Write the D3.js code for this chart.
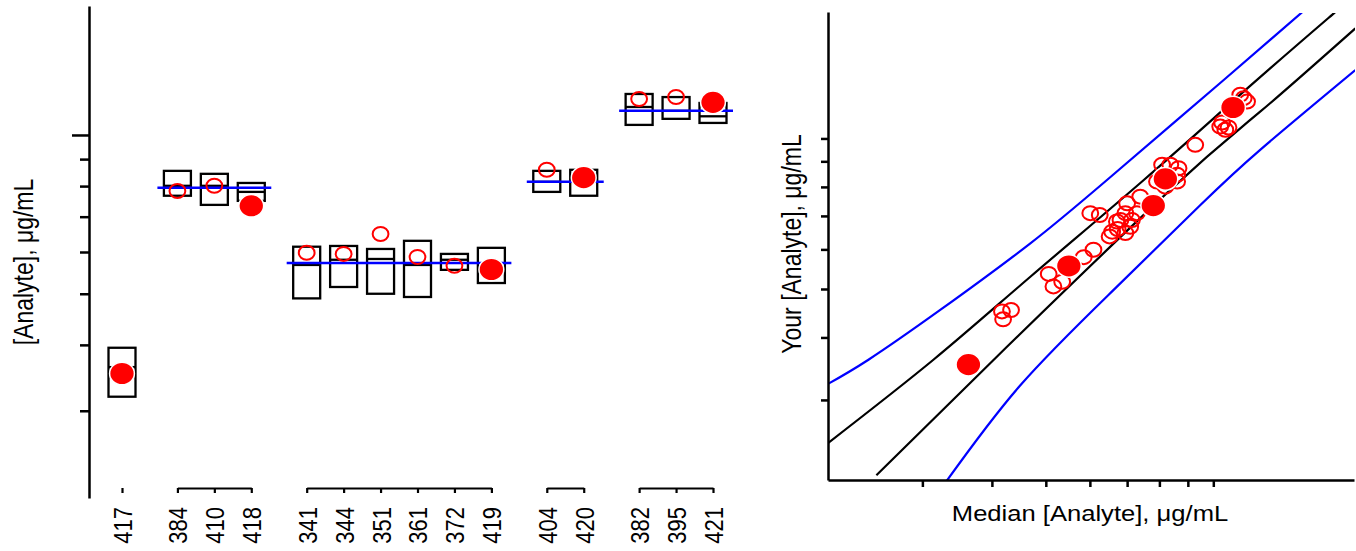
<!DOCTYPE html>
<html>
<head>
<meta charset="utf-8">
<script src="https://cdn.jsdelivr.net/npm/d3@7"></script>
<style>
  body { margin: 0; background: #fff; }
  svg { display: block; }
  text { font-family: "Liberation Sans", Arial, Helvetica, sans-serif; fill: #000; }
</style>
</head>
<body>
<svg id="chart" width="1356" height="551"></svg>
<script>
// ---- Left panel: samples grouped by material ----
const groups = [
  ["417"],
  ["384", "410", "418"],
  ["341", "344", "351", "361", "372", "419"],
  ["404", "420"],
  ["382", "395", "421"]
];
const groupMedian = [null, 79.4, 57.2, 81.5, 111.1];

const sampleIds = ["417", "384", "410", "418", "341", "344", "351", "361", "372", "419", "404", "420", "382", "395", "421"];
const boxLow    = [31.9, 76.7, 73.7, 75.0, 49.0, 51.5, 50.0, 49.3, 55.5, 52.4, 78.0, 76.7, 104.5, 107.3, 105.4];
const boxMid    = [36.3, 80.1, 80.1, 78.0, 56.7, 58.0, 58.2, 56.7, 58.0, 55.0, 81.5, 82.0, 113.0, 111.1, 108.5];
const boxHigh   = [39.5, 85.5, 84.4, 81.1, 61.4, 61.6, 60.8, 63.0, 59.5, 61.1, 85.5, 85.9, 119.6, 118.0, 115.0];
const yourValue = [35.3, 78.3, 80.1, 73.4, 59.8, 59.5, 64.9, 58.7, 56.5, 55.6, 85.9, 83.0, 117.0, 118.0, 115.3];
const isCurrent = [true, false, false, true, false, false, false, false, false, true, false, true, false, false, true];

// ---- Right panel: your result against the median of all labs ----
const historyMedian = [41.7, 43.3, 41.9, 50.6, 51.6, 53.5, 58.5, 60.9, 60.1, 62.5, 65.1, 65.8, 67.3, 68.1, 69.5, 70.0, 71.4, 69.5, 70.9,
                       67.1, 73.9, 72.9, 79.2, 86.1, 82.0, 83.7, 86.1, 80.9, 86.6, 92.8, 102.9, 105.1, 103.7, 106.5, 113.4, 111.8, 115.0];
const historyYours  = [45.1, 45.4, 43.5, 53.6, 50.6, 51.7, 57.9, 59.9, 70.9, 70.3, 63.7, 65.1, 65.9, 68.7, 70.9, 74.2, 68.7, 64.7, 66.6,
                       68.2, 76.5, 70.9, 82.0, 82.0, 80.1, 88.6, 84.6, 88.6, 87.2, 97.1, 105.6, 104.1, 107.6, 105.2, 120.4, 122.3, 118.5];

// Acceptance limits, as [median, your value] pairs
const innerUpper = [[20.3, 24.6], [31.4, 36.1], [46.9, 52.9], [75.0, 82.6], [116.6, 127.5], [163.7, 176.9], [175.6, 189.3]];
const innerLower = [[24.8, 21.2], [40.1, 35.9], [83.7, 78.9], [121.4, 113.1], [180.0, 166.0]];
const outerUpper = [[20.3, 32.3], [24.0, 36.1], [32.3, 45.4], [46.9, 61.7], [64.4, 82.6], [104.4, 130.9], [153.0, 189.0]];
const outerLower = [[33.0, 20.5], [45.0, 32.1], [66.2, 49.8], [94.8, 73.6], [121.4, 94.9], [180.0, 137.0]];

const tickValues = [30, 40, 50, 60, 70, 80, 90, 100];

const svg = d3.select("#chart");
const RED = "#ff0000", BLUE = "#0000ff";
const STRETCH = 1.19;

// marker sizes (slightly wider than tall)
const OPEN_RX = 7.9, OPEN_RY = 7.0;
const DOT_RX = 12.4, DOT_RY = 11.3;

// ===================== Left panel =====================
// slot positions: half a slot of extra space between groups
const slotOf = {};
let s = 0;
groups.forEach((g, gi) => {
  if (gi > 0) s += 0.5;
  g.forEach(id => { slotOf[id] = s; s += 1; });
});
const slotMax = s - 1;
const xL = d3.scaleLinear().domain([0, slotMax]).range([122, 713]);
const yL = d3.scaleLog().domain([20.5, 175.6]).range([498, 6]);
const boxW = 27;

const left = svg.append("g");

// y axis
const yAxisL = left.append("g")
  .attr("transform", "translate(89,0)")
  .call(d3.axisLeft(yL).tickValues(tickValues).tickFormat("").tickSize(9).tickSizeOuter(0));
yAxisL.select(".domain").attr("stroke-width", 2.5);
yAxisL.selectAll(".tick line").attr("stroke-width", 2.5)
  .attr("x2", d => d === 100 ? -17 : -9);

// per-group category axes
groups.forEach(g => {
  const a = slotOf[g[0]], b = slotOf[g[g.length - 1]];
  const sc = d3.scaleLinear()
    .domain(a === b ? [a - 0.01, a + 0.01] : [a, b])
    .range(a === b ? [xL(a), xL(a)] : [xL(a), xL(b)]);
  const ax = left.append("g")
    .attr("transform", "translate(0,488)")
    .call(d3.axisBottom(sc).tickValues(g.map(id => slotOf[id]))
      .tickFormat((d, i) => g[i]).tickSize(5).tickSizeOuter(0));
  ax.select(".domain").attr("stroke-width", 2.2);
  ax.selectAll(".tick line").attr("stroke-width", 2.2);
  ax.selectAll(".tick text")
    .attr("x", 0).attr("y", 0).attr("dy", "0.36em")
    .attr("text-anchor", "end")
    .attr("transform", `translate(0,19) scale(${STRETCH},1) rotate(-90)`)
    .style("font-size", "22px")
    .attr("fill", "#000");
});

// boxes
sampleIds.forEach((id, i) => {
  const cx = xL(slotOf[id]);
  left.append("rect")
    .attr("x", cx - boxW / 2).attr("width", boxW)
    .attr("y", yL(boxHigh[i])).attr("height", yL(boxLow[i]) - yL(boxHigh[i]))
    .attr("fill", "none").attr("stroke", "#000").attr("stroke-width", 2.3);
  left.append("line")
    .attr("x1", cx - boxW / 2).attr("x2", cx + boxW / 2)
    .attr("y1", yL(boxMid[i])).attr("y2", yL(boxMid[i]))
    .attr("stroke", "#000").attr("stroke-width", 2.3);
});

// group consensus lines
groups.forEach((g, gi) => {
  if (groupMedian[gi] == null) return;
  left.append("line")
    .attr("x1", xL(slotOf[g[0]]) - 20).attr("x2", xL(slotOf[g[g.length - 1]]) + 20)
    .attr("y1", yL(groupMedian[gi])).attr("y2", yL(groupMedian[gi]))
    .attr("stroke", BLUE).attr("stroke-width", 2.5);
});

// your results
sampleIds.forEach((id, i) => {
  const e = left.append("ellipse")
    .attr("cx", xL(slotOf[id])).attr("cy", yL(yourValue[i]));
  if (isCurrent[i]) {
    e.attr("rx", DOT_RX).attr("ry", DOT_RY).attr("fill", RED).attr("stroke", "#fff").attr("stroke-width", 1.5);
  } else {
    e.attr("rx", OPEN_RX).attr("ry", OPEN_RY).attr("fill", "none").attr("stroke", RED).attr("stroke-width", 2);
  }
});

// y title
left.append("text")
  .attr("transform", `translate(33,262) scale(${STRETCH},1) rotate(-90)`)
  .attr("text-anchor", "middle")
  .style("font-size", "23px")
  .text("[Analyte], \u03bcg/mL");

// ===================== Right panel =====================
const xR = d3.scaleLog().domain([20.3, 179]).range([828, 1354]);
const yR = d3.scaleLog().domain([20.75, 179]).range([480, 12]);
const right = svg.append("g");

right.append("clipPath").attr("id", "plotClip")
  .append("rect").attr("x", 828).attr("y", 13).attr("width", 527).attr("height", 467);

const line = d3.line().x(d => xR(d[0])).y(d => yR(d[1])).curve(d3.curveNatural);
const curves = right.append("g").attr("clip-path", "url(#plotClip)");
[[outerUpper, BLUE], [outerLower, BLUE], [innerUpper, "#000"], [innerLower, "#000"]].forEach(([pts, col]) => {
  curves.append("path").attr("d", line(pts))
    .attr("fill", "none").attr("stroke", col).attr("stroke-width", 2.2);
});

// history
historyMedian.forEach((m, i) => {
  right.append("ellipse")
    .attr("cx", xR(m)).attr("cy", yR(historyYours[i]))
    .attr("rx", OPEN_RX).attr("ry", OPEN_RY)
    .attr("fill", "none").attr("stroke", RED).attr("stroke-width", 2);
});
// current round
sampleIds.forEach((id, i) => {
  if (!isCurrent[i]) return;
  right.append("ellipse")
    .attr("cx", xR(boxMid[i])).attr("cy", yR(yourValue[i]))
    .attr("rx", DOT_RX).attr("ry", DOT_RY)
    .attr("fill", RED).attr("stroke", "#fff").attr("stroke-width", 1.5);
});

// axes
const yAxisR = right.append("g").attr("transform", "translate(828,0)")
  .call(d3.axisLeft(yR).tickValues(tickValues).tickFormat("").tickSize(7).tickSizeOuter(0));
const xAxisR = right.append("g").attr("transform", "translate(0,480)")
  .call(d3.axisBottom(xR).tickValues(tickValues).tickFormat("").tickSize(7).tickSizeOuter(0));
[yAxisR, xAxisR].forEach(a => {
  a.select(".domain").attr("stroke-width", 2.5);
  a.selectAll(".tick line").attr("stroke-width", 2.5);
});

right.append("text")
  .attr("transform", `translate(801,244) scale(${STRETCH},1) rotate(-90)`)
  .attr("text-anchor", "middle")
  .style("font-size", "23px")
  .text("Your [Analyte], \u03bcg/mL");

right.append("text")
  .attr("transform", `translate(1090,521) scale(${STRETCH},1)`)
  .attr("text-anchor", "middle")
  .style("font-size", "21.5px")
  .text("Median [Analyte], \u03bcg/mL");
</script>
</body>
</html>
